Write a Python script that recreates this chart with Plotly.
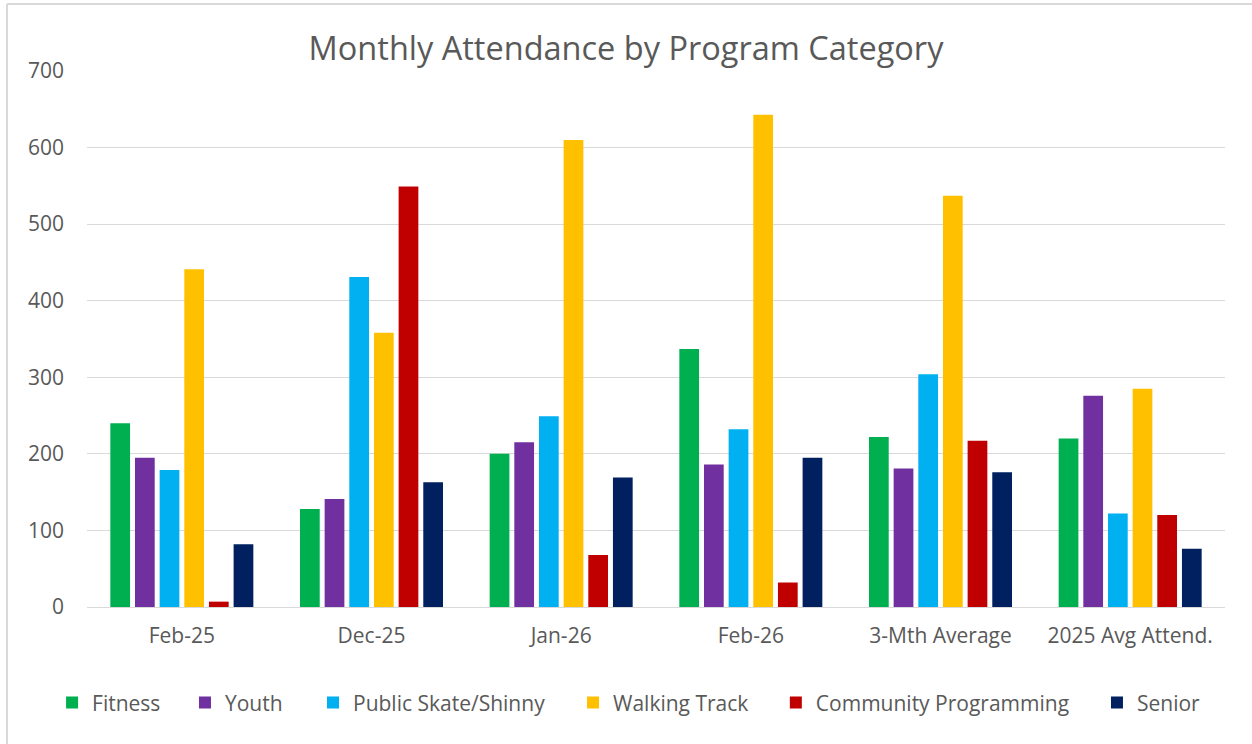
import plotly.graph_objects as go

categories = ["Feb-25", "Dec-25", "Jan-26", "Feb-26", "3-Mth Average", "2025 Avg Attend."]
fitness = [240, 128, 200, 337, 222, 220]
youth = [195, 141, 215, 186, 181, 276]
public_skate = [179, 431, 249, 232, 304, 122]
walking_track = [441, 358, 610, 643, 537, 285]
community = [7, 549, 68, 32, 217, 120]
senior = [82, 163, 169, 195, 176, 76]

series = [
    ("Fitness", fitness, "#00B050"),
    ("Youth", youth, "#7030A0"),
    ("Public Skate/Shinny", public_skate, "#00B0F0"),
    ("Walking Track", walking_track, "#FFC000"),
    ("Community Programming", community, "#C00000"),
    ("Senior", senior, "#002060"),
]
legend_x = [-0.0307, 0.0861, 0.1986, 0.4271, 0.6053, 0.8875]

FONT = "'Open Sans', sans-serif"
fig = go.Figure()
layout_legends = {}
for i, (name, vals, col) in enumerate(series):
    key = "legend" if i == 0 else f"legend{i+1}"
    fig.add_trace(go.Bar(name=name, x=categories, y=vals, marker_color=col,
                         marker_line_width=0, legend=key))
    layout_legends[key] = dict(x=legend_x[i], y=-0.179, xref="paper", yref="paper",
                               xanchor="left", yanchor="middle", orientation="h",
                               font=dict(family=FONT, size=21, color="#595959"),
                               bgcolor="rgba(0,0,0,0)", itemwidth=30)

fig.update_layout(
    width=1252, height=744,
    paper_bgcolor="white", plot_bgcolor="white",
    margin=dict(l=87, r=27, t=71, b=137),
    barmode="group", bargap=0.22, bargroupgap=0.2,
    title=dict(text="Monthly Attendance by Program Category", x=0.5, xanchor="center",
               y=0.935, yanchor="middle",
               font=dict(family=FONT, size=32.5, color="#595959")),
    font=dict(family=FONT, color="#595959"),
    showlegend=True,
    **layout_legends,
)
fig.update_yaxes(range=[0, 700], dtick=100, gridcolor="#D9D9D9", gridwidth=1,
                 zeroline=True, zerolinecolor="#D9D9D9", zerolinewidth=1,
                 tickfont=dict(size=21, color="#595959"), ticks="", ticklabelstandoff=22,
                 showline=False)
fig.update_xaxes(tickfont=dict(size=21, color="#595959"), showline=False, ticks="",
                 ticklabelstandoff=14)
bx0, by1 = -0.0703, 1.125
fig.add_shape(type="line", xref="paper", yref="paper", x0=bx0, x1=bx0, y0=-0.3, y1=by1,
              line=dict(color="#D9D9D9", width=2))
fig.add_shape(type="line", xref="paper", yref="paper", x0=bx0, x1=1.05, y0=by1, y1=by1,
              line=dict(color="#D9D9D9", width=2))
fig.write_html("out.html", config={"displayModeBar": False},
               post_script="document.body.style.margin='0';")
